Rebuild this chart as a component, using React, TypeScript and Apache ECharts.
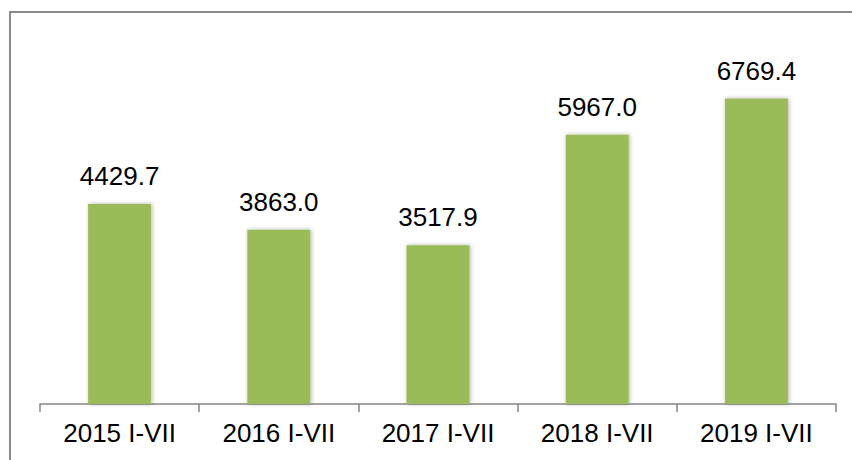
import React, { useEffect, useRef } from "react";
import * as echarts from "echarts";

const categories = ["2015 I-VII", "2016 I-VII", "2017 I-VII", "2018 I-VII", "2019 I-VII"];
const values = [4429.7, 3863.0, 3517.9, 5967.0, 6769.4];

export default function App() {
  const ref = useRef<HTMLDivElement>(null);
  useEffect(() => {
    document.body.style.margin = "0";
    const chart = echarts.init(ref.current!, null, { renderer: "svg" });
    chart.setOption({
      animation: false,
      backgroundColor: "#ffffff",
      textStyle: { fontFamily: "Liberation Sans, Arial, sans-serif" },
      grid: { left: 40, right: 16, top: 43, bottom: 56 },
      graphic: [
        {
          type: "rect",
          shape: { x: 10, y: 12, width: 900, height: 500 },
          style: { fill: "none", stroke: "#8a8a8a", lineWidth: 2 },
          silent: true,
        },
      ],
      xAxis: {
        type: "category",
        data: categories,
        boundaryGap: true,
        axisLine: { lineStyle: { color: "#868686", width: 1.5 } },
        axisTick: { show: true, length: 8, alignWithLabel: false, lineStyle: { color: "#868686", width: 1.5 } },
        axisLabel: { color: "#000", fontSize: 26, margin: 16, fontFamily: "Liberation Sans, Arial, sans-serif" },
      },
      yAxis: {
        type: "value",
        min: 0,
        max: 8000,
        show: false,
        splitLine: { show: false },
      },
      series: [
        {
          type: "bar",
          data: values,
          barWidth: 63,
          itemStyle: {
            color: "#9BBB59",
            shadowBlur: 4,
            shadowColor: "rgba(0,0,0,0.3)",
            shadowOffsetX: 1,
            shadowOffsetY: 0,
          },
          label: {
            show: true,
            position: "top",
            distance: 15,
            color: "#000",
            fontSize: 26,
            fontFamily: "Liberation Sans, Arial, sans-serif",
            formatter: (p: any) => Number(p.value).toFixed(1),
          },
        },
      ],
    });
    return () => chart.dispose();
  }, []);
  return <div ref={ref} style={{ width: 852, height: 460 }} />;
}
